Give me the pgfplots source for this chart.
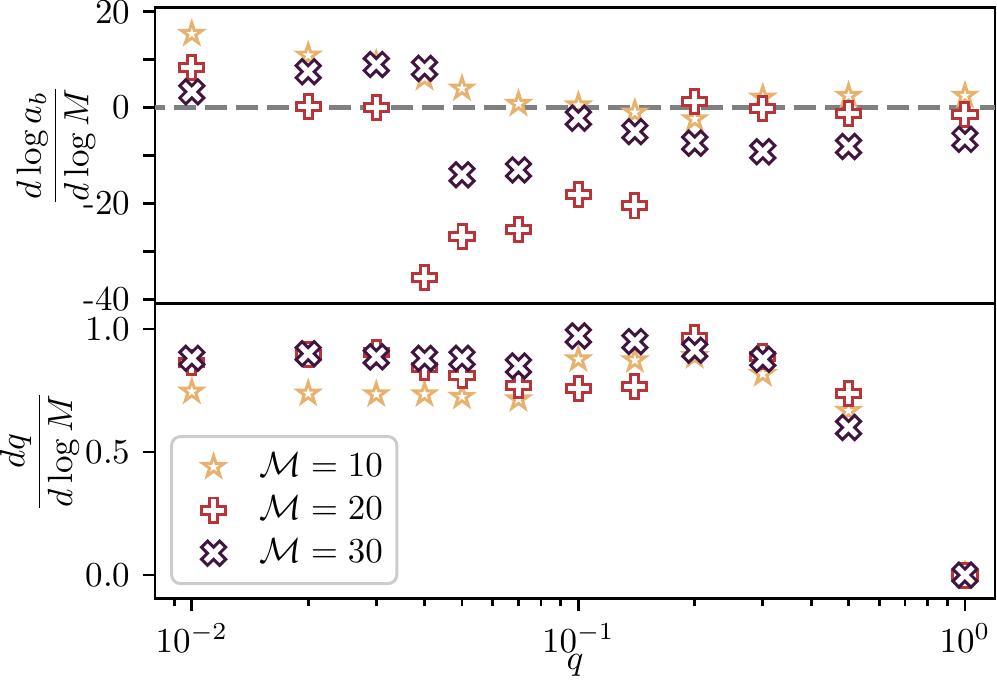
\documentclass[border=0pt]{standalone}
\usepackage{pgfplots}
\pgfplotsset{compat=1.18}
\definecolor{cA}{RGB}{230,178,110}
\definecolor{cB}{RGB}{184,52,56}
\definecolor{cC}{RGB}{64,22,64}

\pgfdeclareplotmark{Pfill}{%
  \pgfpathmoveto{\pgfqpoint{-0.3333\pgfplotmarksize}{-\pgfplotmarksize}}%
  \pgfpathlineto{\pgfqpoint{-0.3333\pgfplotmarksize}{-0.3333\pgfplotmarksize}}%
  \pgfpathlineto{\pgfqpoint{-\pgfplotmarksize}{-0.3333\pgfplotmarksize}}%
  \pgfpathlineto{\pgfqpoint{-\pgfplotmarksize}{0.3333\pgfplotmarksize}}%
  \pgfpathlineto{\pgfqpoint{-0.3333\pgfplotmarksize}{0.3333\pgfplotmarksize}}%
  \pgfpathlineto{\pgfqpoint{-0.3333\pgfplotmarksize}{\pgfplotmarksize}}%
  \pgfpathlineto{\pgfqpoint{0.3333\pgfplotmarksize}{\pgfplotmarksize}}%
  \pgfpathlineto{\pgfqpoint{0.3333\pgfplotmarksize}{0.3333\pgfplotmarksize}}%
  \pgfpathlineto{\pgfqpoint{\pgfplotmarksize}{0.3333\pgfplotmarksize}}%
  \pgfpathlineto{\pgfqpoint{\pgfplotmarksize}{-0.3333\pgfplotmarksize}}%
  \pgfpathlineto{\pgfqpoint{0.3333\pgfplotmarksize}{-0.3333\pgfplotmarksize}}%
  \pgfpathlineto{\pgfqpoint{0.3333\pgfplotmarksize}{-\pgfplotmarksize}}%
  \pgfpathclose
  \pgfusepathqfillstroke}

\pgfdeclareplotmark{Xfill}{%
  \pgfpathmoveto{\pgfqpoint{-0.5\pgfplotmarksize}{-\pgfplotmarksize}}%
  \pgfpathlineto{\pgfqpoint{0pt}{-0.5\pgfplotmarksize}}%
  \pgfpathlineto{\pgfqpoint{0.5\pgfplotmarksize}{-\pgfplotmarksize}}%
  \pgfpathlineto{\pgfqpoint{\pgfplotmarksize}{-0.5\pgfplotmarksize}}%
  \pgfpathlineto{\pgfqpoint{0.5\pgfplotmarksize}{0pt}}%
  \pgfpathlineto{\pgfqpoint{\pgfplotmarksize}{0.5\pgfplotmarksize}}%
  \pgfpathlineto{\pgfqpoint{0.5\pgfplotmarksize}{\pgfplotmarksize}}%
  \pgfpathlineto{\pgfqpoint{0pt}{0.5\pgfplotmarksize}}%
  \pgfpathlineto{\pgfqpoint{-0.5\pgfplotmarksize}{\pgfplotmarksize}}%
  \pgfpathlineto{\pgfqpoint{-\pgfplotmarksize}{0.5\pgfplotmarksize}}%
  \pgfpathlineto{\pgfqpoint{-0.5\pgfplotmarksize}{0pt}}%
  \pgfpathlineto{\pgfqpoint{-\pgfplotmarksize}{-0.5\pgfplotmarksize}}%
  \pgfpathclose
  \pgfusepathqfillstroke}

\pgfdeclareplotmark{Sfill}{%
  \pgfpathmoveto{\pgfpointpolar{90}{\pgfplotmarksize}}%
  \pgfpathlineto{\pgfpointpolar{126}{0.382\pgfplotmarksize}}%
  \pgfpathlineto{\pgfpointpolar{162}{\pgfplotmarksize}}%
  \pgfpathlineto{\pgfpointpolar{198}{0.382\pgfplotmarksize}}%
  \pgfpathlineto{\pgfpointpolar{234}{\pgfplotmarksize}}%
  \pgfpathlineto{\pgfpointpolar{270}{0.382\pgfplotmarksize}}%
  \pgfpathlineto{\pgfpointpolar{306}{\pgfplotmarksize}}%
  \pgfpathlineto{\pgfpointpolar{342}{0.382\pgfplotmarksize}}%
  \pgfpathlineto{\pgfpointpolar{18}{\pgfplotmarksize}}%
  \pgfpathlineto{\pgfpointpolar{54}{0.382\pgfplotmarksize}}%
  \pgfpathclose
  \pgfusepathqfillstroke}

\tikzset{
  mkA/.style={mark=Sfill, mark size=3.15pt, mark options={draw=cA, fill=white, line width=0.85pt, line join=miter}},
  mkB/.style={mark=Pfill, mark size=3.45pt, mark options={draw=cB, fill=white, line width=0.85pt, line join=miter}},
  mkC/.style={mark=Xfill, mark size=3.45pt, mark options={draw=cC, fill=white, line width=0.85pt, line join=miter}},
}

\begin{document}
\begin{tikzpicture}
\path[use as bounding box] (-44.29pt,-23.43pt) rectangle (240.57pt,171.14pt);

% bottom axis
\begin{axis}[scale only axis, width=240pt, height=84.5pt,
  xmode=log, xmin=0.00803, xmax=1.196,
  axis line style={line width=0.85pt},
  tick align=outside,
  major tick length=3.5pt, minor tick length=2pt,
  every tick/.style={black, line width=0.8pt},
  ytick pos=left,
  name=bot, at={(0,0)}, anchor=south west,
  ymin=-0.097, ymax=1.105,
  ytick={0,0.5,1}, yticklabels={0.0,0.5,1.0},
  xtick pos=bottom,
  xlabel={$q$},
  x label style={at={(axis description cs:0.5,0)}, anchor=center, yshift=-19pt},
  ylabel={$\displaystyle\frac{dq}{d\log M}$},
  y label style={at={(axis description cs:-0.1375,0.5)}, anchor=center},
  legend cell align=left,
  legend image code/.code={\path[draw=none, fill=none] (-10pt,-0.5pt) rectangle (11pt,0.5pt); \path[#1, draw=none] plot[only marks] coordinates {(0pt,0pt)};},
  legend style={at={(axis description cs:0.018,0.047)}, anchor=south west,
    draw=black!20, line width=0.85pt, rounded corners=2.5pt,
    fill=white, fill opacity=0.8, text opacity=1, draw opacity=1,
    inner xsep=2pt, inner ysep=2.5pt},
]
\addplot[only marks, mkA] coordinates {(0.01,0.746) (0.02,0.738) (0.03,0.735) (0.04,0.735) (0.05,0.725) (0.07,0.715) (0.1,0.877) (0.14,0.873) (0.2,0.89) (0.3,0.817) (0.5,0.668) (1.0,0.0)};
\addlegendentry{$\mathcal{M}=10$}
\addplot[only marks, mkB] coordinates {(0.01,0.864) (0.02,0.897) (0.03,0.904) (0.04,0.843) (0.05,0.81) (0.07,0.769) (0.1,0.76) (0.14,0.765) (0.2,0.965) (0.3,0.89) (0.5,0.738) (1.0,0.0)};
\addlegendentry{$\mathcal{M}=20$}
\addplot[only marks, mkC] coordinates {(0.01,0.881) (0.02,0.90) (0.03,0.887) (0.04,0.881) (0.05,0.881) (0.07,0.85) (0.1,0.972) (0.14,0.949) (0.2,0.914) (0.3,0.877) (0.5,0.60) (1.0,0.0)};
\addlegendentry{$\mathcal{M}=30$}
\end{axis}

% top axis
\begin{axis}[scale only axis, width=240pt, height=84.5pt,
  xmode=log, xmin=0.00803, xmax=1.196,
  axis line style={line width=0.85pt},
  tick align=outside,
  major tick length=3.5pt, minor tick length=2pt,
  every tick/.style={black, line width=0.8pt},
  ytick pos=left,
  name=top, at={(0,84.5pt)}, anchor=south west,
  ymin=-40.8, ymax=20.9,
  ytick={-40,-30,-20,-10,0,10,20}, yticklabels={-40,,-20,,0,,20},
  xmajorticks=false, xminorticks=false,
  ylabel={$\displaystyle\frac{d\log a_b}{d\log M}$},
  y label style={at={(axis description cs:-0.118,0.534)}, anchor=center},
]
\addplot[color=gray, line width=1.4pt, dash pattern=on 6.2pt off 2.66pt, dash phase=3.4pt, forget plot] coordinates {(0.00803,0) (1.196,0)};
\addplot[only marks, mkA] coordinates {(0.01,15.4) (0.02,10.9) (0.03,9.2) (0.04,6.2) (0.05,4.0) (0.07,0.8) (0.1,0.5) (0.14,-1.0) (0.2,-2.4) (0.3,2.1) (0.5,2.5) (1.0,2.5)};
\addplot[only marks, mkB] coordinates {(0.01,8.4) (0.02,0.2) (0.03,0.1) (0.04,-35.5) (0.05,-26.8) (0.07,-25.5) (0.1,-18.2) (0.14,-20.5) (0.2,1.2) (0.3,-0.2) (0.5,-1.2) (1.0,-1.5)};
\addplot[only marks, mkC] coordinates {(0.01,3.3) (0.02,7.5) (0.03,9.0) (0.04,8.2) (0.05,-14.0) (0.07,-13.0) (0.1,-2.2) (0.14,-5.0) (0.2,-7.4) (0.3,-9.2) (0.5,-8.1) (1.0,-6.6)};
\end{axis}
\end{tikzpicture}
\end{document}
